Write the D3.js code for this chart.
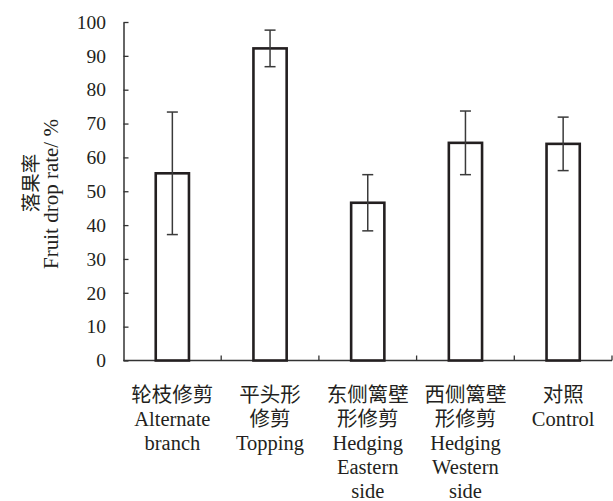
<!DOCTYPE html>
<html>
<head>
<meta charset="utf-8">
<script src="https://cdn.jsdelivr.net/npm/d3@7"></script>
<style>
  html, body { margin: 0; padding: 0; background: #fff; }
</style>
</head>
<body>
<svg id="chart" width="613" height="501"></svg>
<script>
// Fruit drop rate (%) by pruning treatment, mean with error range
const categories = ["alt", "top", "east", "west", "ctrl"];
const labelLines = [
  ["轮枝修剪", "Alternate", "branch"],
  ["平头形", "修剪", "Topping"],
  ["东侧篱壁", "形修剪", "Hedging", "Eastern", "side"],
  ["西侧篱壁", "形修剪", "Hedging", "Western", "side"],
  ["对照", "Control"]
];
const means = [55.3, 92.2, 46.6, 64.3, 64.0];
const errors = [18.1, 5.4, 8.3, 9.4, 7.9];
const yTicks = [0, 10, 20, 30, 40, 50, 60, 70, 80, 90, 100];

const FONT = "'Times New Roman', 'Liberation Serif', 'DejaVu Serif', 'Noto Sans CJK SC', serif";
const TEXT_COLOR = "#231f20";

const svg = d3.select("#chart");
const plotLeft = 123.5, plotRight = 612, plotTop = 22, plotBottom = 360.5;

const x = d3.scaleBand().domain(categories).range([plotLeft, plotRight]).paddingInner(0).paddingOuter(0);
const y = d3.scaleLinear().domain([0, 100]).range([plotBottom, plotTop]);

const axisColor = "#333";

// y axis with inward ticks
const yAxis = svg.append("g")
  .attr("transform", `translate(${plotLeft},0)`)
  .call(d3.axisLeft(y).tickValues(yTicks).tickSize(-5).tickSizeOuter(0).tickPadding(17.5))
  .attr("font-family", FONT).attr("font-size", 19.5);
yAxis.select(".domain").attr("stroke", axisColor).attr("stroke-width", 1.5);
yAxis.selectAll(".tick line").attr("stroke", axisColor).attr("stroke-width", 1.3);
yAxis.selectAll(".tick text").attr("fill", TEXT_COLOR);

// x axis: ticks at band boundaries pointing up
const xAxisG = svg.append("g").attr("transform", `translate(0,${plotBottom})`);
xAxisG.append("line").attr("x1", plotLeft).attr("x2", plotRight).attr("stroke", axisColor).attr("stroke-width", 1.5);
const boundaries = categories.map(c => x(c) + x.bandwidth());
xAxisG.selectAll("line.tk").data(boundaries).join("line").attr("class", "tk")
  .attr("x1", d => d).attr("x2", d => d).attr("y1", 0).attr("y2", -5)
  .attr("stroke", axisColor).attr("stroke-width", 1.3);

// bars
const barW = x.bandwidth() * 0.34;
svg.append("g").selectAll("rect").data(categories).join("rect")
  .attr("x", (d) => x(d) + x.bandwidth() / 2 - barW / 2)
  .attr("width", barW)
  .attr("y", (d, i) => y(means[i]))
  .attr("height", (d, i) => y(0) - y(means[i]))
  .attr("fill", "#fff").attr("stroke", "#231f20").attr("stroke-width", 2.6);

// error bars
const capW = 11;
const eg = svg.append("g").attr("stroke", "#3a3a3a").attr("stroke-width", 1.5);
categories.forEach((c, i) => {
  const cx = x(c) + x.bandwidth() / 2;
  const hi = y(means[i] + errors[i]), lo = y(means[i] - errors[i]);
  eg.append("line").attr("x1", cx).attr("x2", cx).attr("y1", hi).attr("y2", lo);
  eg.append("line").attr("x1", cx - capW / 2).attr("x2", cx + capW / 2).attr("y1", hi).attr("y2", hi);
  eg.append("line").attr("x1", cx - capW / 2).attr("x2", cx + capW / 2).attr("y1", lo).attr("y2", lo);
});

// category labels
const lg = svg.append("g").attr("font-family", FONT).attr("font-size", 20.5).attr("fill", TEXT_COLOR);
categories.forEach((c, i) => {
  const cx = x(c) + x.bandwidth() / 2;
  const t = lg.append("text").attr("text-anchor", "middle");
  labelLines[i].forEach((s, j) => {
    t.append("tspan").attr("x", cx).attr("y", 402 + j * 24).text(s);
  });
});

// y axis title (two rotated lines)
const yt = svg.append("g").attr("font-family", FONT).attr("fill", TEXT_COLOR);
yt.append("text").attr("transform", "translate(38,183) rotate(-90)")
  .attr("text-anchor", "middle").attr("font-size", 19.5).text("落果率");
yt.append("text").attr("transform", "translate(58,194) rotate(-90)")
  .attr("text-anchor", "middle").attr("font-size", 21).text("Fruit drop rate/ %");
</script>
</body>
</html>
